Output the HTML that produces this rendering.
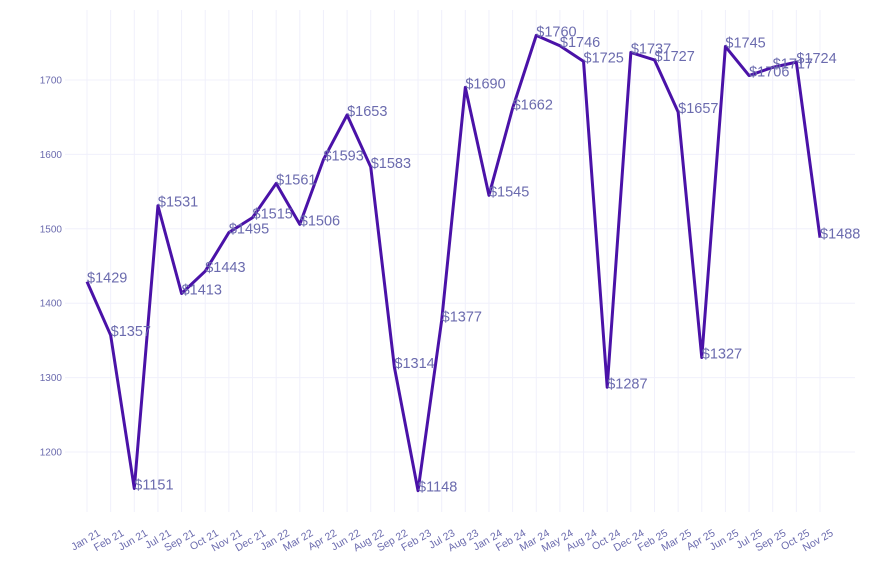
<!DOCTYPE html>
<html><head><meta charset="utf-8"><style>
html,body{margin:0;padding:0;background:#fff;}
svg{display:block;font-family:"Liberation Sans",sans-serif;}
</style></head><body>
<svg id="c" width="873" height="565" xmlns="http://www.w3.org/2000/svg"></svg>
<script>
const labels=["Jan 21","Feb 21","Jun 21","Jul 21","Sep 21","Oct 21","Nov 21","Dec 21","Jan 22","Mar 22","Apr 22","Jun 22","Aug 22","Sep 22","Feb 23","Jul 23","Aug 23","Jan 24","Feb 24","Mar 24","May 24","Aug 24","Oct 24","Dec 24","Feb 25","Mar 25","Apr 25","Jun 25","Jul 25","Sep 25","Oct 25","Nov 25"];
const vals=[1429,1357,1151,1531,1413,1443,1495,1515,1561,1506,1593,1653,1583,1314,1148,1377,1690,1545,1662,1760,1746,1725,1287,1737,1727,1657,1327,1745,1706,1717,1724,1488];
const X=i=>87+i*(733/31), Y=v=>80+(1700-v)*0.744;
let s='';
for(let v=1200;v<=1700;v+=100){s+=`<line x1="65" x2="855" y1="${Y(v)}" y2="${Y(v)}" stroke="#f0f0fb" stroke-width="1"/>`;
s+=`<text x="62" y="${Y(v)+3.5}" font-size="10" fill="#6b6bae" text-anchor="end">${v}</text>`;}
labels.forEach((l,i)=>{s+=`<line x1="${X(i)}" x2="${X(i)}" y1="10" y2="512" stroke="#f0f0fb" stroke-width="1"/>`;
s+=`<text transform="translate(${X(i)+14},${535}) rotate(-30)" font-size="10.5" fill="#6b6bae" text-anchor="end">${l}</text>`;});
s+=`<polyline fill="none" stroke="#4a12a8" stroke-width="3" stroke-linejoin="round" points="${vals.map((v,i)=>X(i)+','+Y(v)).join(' ')}"/>`;
vals.forEach((v,i)=>{s+=`<text x="${X(i)}" y="${Y(v)+1}" font-size="14.5" fill="#6b6bae">$${v}</text>`;});
document.getElementById('c').innerHTML=s;
</script>
</body></html>
